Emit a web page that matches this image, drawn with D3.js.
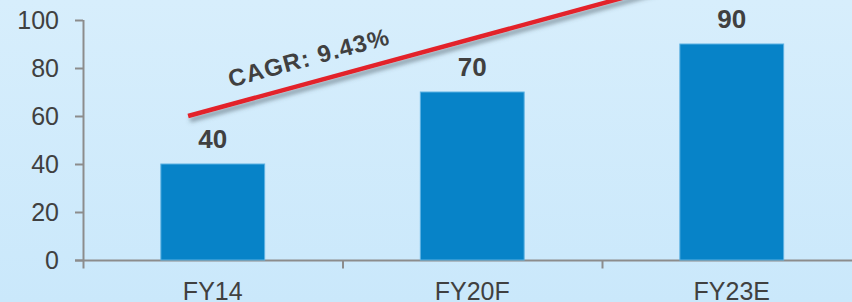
<!DOCTYPE html>
<html>
<head>
<meta charset="utf-8">
<script src="https://cdn.jsdelivr.net/npm/d3@7"></script>
<style>
  html, body { margin: 0; padding: 0; }
  body { width: 852px; height: 302px; overflow: hidden; }
  svg { display: block; font-family: "Liberation Sans", Arial, sans-serif; }
</style>
</head>
<body>
<svg id="chart" width="852" height="302"></svg>
<script>
// chart data
const categories = ["FY14", "FY20F", "FY23E"];
const values = [40, 70, 90];
const yTicks = [0, 20, 40, 60, 80, 100];
const cagrLabel = "CAGR: 9.43%";
// cagr arrow: [category, shift in band steps, value]
const cagrLine = [["FY14", -0.095, 60], ["FY23E", -0.2, 115.7]];

const svg = d3.select("#chart");
const width = 852, height = 302;

const defs = svg.append("defs");
const grad = defs.append("linearGradient")
  .attr("id", "bg").attr("x1", 0).attr("y1", 0).attr("x2", 0).attr("y2", 1);
grad.append("stop").attr("offset", "0%").attr("stop-color", "#d7eefc");
grad.append("stop").attr("offset", "100%").attr("stop-color", "#cae8fb");

const shadow = defs.append("filter").attr("id", "shadow")
  .attr("x", "-10%").attr("y", "-50%").attr("width", "120%").attr("height", "200%");
shadow.append("feDropShadow")
  .attr("dx", 2).attr("dy", 4).attr("stdDeviation", 2)
  .attr("flood-color", "#4a5560").attr("flood-opacity", 0.55);

svg.append("rect").attr("width", width).attr("height", height).attr("fill", "url(#bg)");

const left = 83, step = 259.5;
const x = d3.scaleBand()
  .domain(categories)
  .range([left, left + step * categories.length])
  .paddingInner(0.6)
  .paddingOuter(0.3);

const y = d3.scaleLinear().domain([0, 100]).range([260, 20]);

const axisColor = "#8c8c8c";
const textColor = "#404040";

// y axis
const yAxis = svg.append("g")
  .attr("transform", `translate(${left},0)`)
  .call(d3.axisLeft(y).tickValues(yTicks).tickSize(8).tickPadding(16).tickSizeOuter(0));
yAxis.select(".domain").remove();
yAxis.selectAll(".tick line").attr("stroke", axisColor).attr("stroke-width", 2);
yAxis.selectAll(".tick text")
  .attr("fill", textColor)
  .style("font-size", "25px")
  .style("font-family", "'Liberation Sans', Arial, sans-serif");
yAxis.append("line")
  .attr("x1", 0.5).attr("x2", 0.5)
  .attr("y1", y(100)).attr("y2", y(0) + 8.5)
  .attr("stroke", axisColor).attr("stroke-width", 2);

// x axis
const xg = svg.append("g");
xg.append("line")
  .attr("x1", left - 8).attr("x2", width)
  .attr("y1", y(0) + 0.5).attr("y2", y(0) + 0.5)
  .attr("stroke", axisColor).attr("stroke-width", 2);
const gap = (x.step() - x.bandwidth()) / 2;
xg.selectAll(".xtick")
  .data(categories.slice(1))
  .join("line")
  .attr("class", "xtick")
  .attr("x1", d => x(d) - gap + 0.5).attr("x2", d => x(d) - gap + 0.5)
  .attr("y1", y(0)).attr("y2", y(0) + 8.5)
  .attr("stroke", axisColor).attr("stroke-width", 2);
xg.selectAll(".xlabel")
  .data(categories)
  .join("text")
  .attr("class", "xlabel")
  .attr("x", d => x(d) + x.bandwidth() / 2)
  .attr("y", 300)
  .attr("text-anchor", "middle")
  .attr("fill", textColor)
  .style("font-size", "25px")
  .text(d => d);

// bars
const rows = categories.map((c, i) => ({ cat: c, value: values[i] }));
svg.selectAll(".bar")
  .data(rows)
  .join("rect")
  .attr("class", "bar")
  .attr("x", d => x(d.cat))
  .attr("y", d => y(d.value))
  .attr("width", x.bandwidth())
  .attr("height", d => y(0) - y(d.value))
  .attr("fill", "#0783c8")
  .attr("stroke", "#5db1e2")
  .attr("stroke-width", 1);

svg.selectAll(".val")
  .data(rows)
  .join("text")
  .attr("class", "val")
  .attr("x", d => x(d.cat) + x.bandwidth() / 2)
  .attr("y", d => y(d.value) - 16)
  .attr("text-anchor", "middle")
  .attr("fill", textColor)
  .style("font-size", "26px")
  .style("font-weight", "bold")
  .text(d => d.value);

// cagr line
const px = d => x(d[0]) + x.bandwidth() / 2 + d[1] * x.step();
svg.append("line")
  .attr("x1", px(cagrLine[0])).attr("y1", y(cagrLine[0][2]))
  .attr("x2", px(cagrLine[1])).attr("y2", y(cagrLine[1][2]))
  .attr("stroke", "#e3222b")
  .attr("stroke-width", 4.5)
  .attr("filter", "url(#shadow)");

const x0 = px(cagrLine[0]), y0 = y(cagrLine[0][2]);
const x1 = px(cagrLine[1]), y1 = y(cagrLine[1][2]);
const angle = Math.atan2(y1 - y0, x1 - x0) * 180 / Math.PI;
const mx = 311, my = y0 + (y1 - y0) * (mx - x0) / (x1 - x0) - 17;
svg.append("text")
  .attr("transform", `translate(${mx},${my}) rotate(${angle})`)
  .attr("text-anchor", "middle")
  .attr("fill", textColor)
  .style("font-size", "24px")
  .style("font-weight", "bold")
  .style("letter-spacing", "1.2px")
  .text(cagrLabel);
</script>
</body>
</html>
